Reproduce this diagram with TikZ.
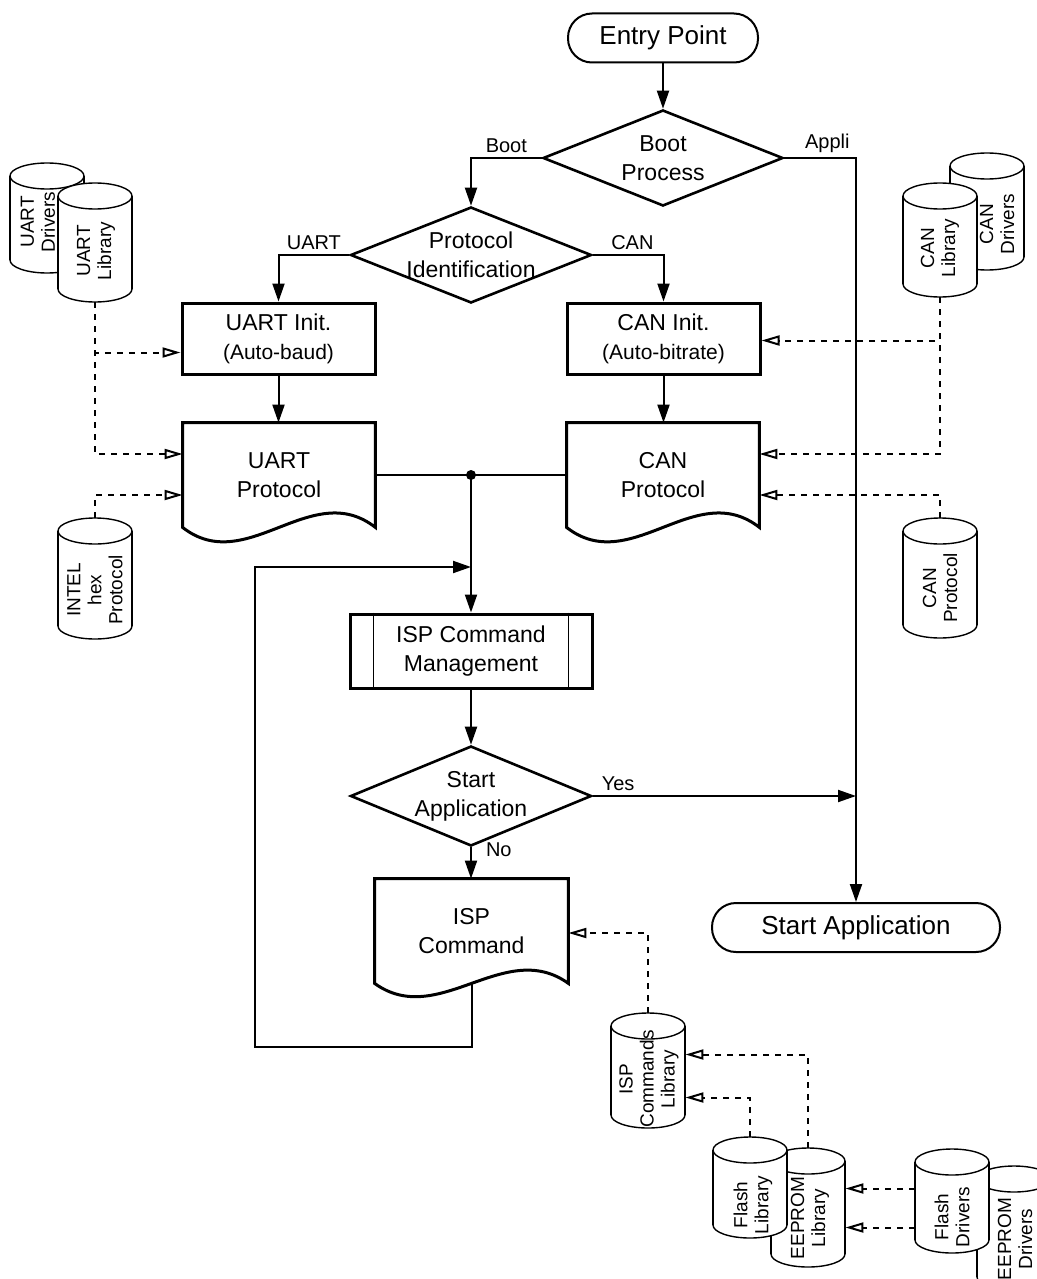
\documentclass[tikz,border=0pt]{standalone}
\usepackage{fontspec}
\setmainfont{Liberation Sans}
\usetikzlibrary{shapes.geometric,arrows.meta,calc}

% cylinder: name, cx, top, bottom, text x, text y, text
\newcommand{\drum}[7]{%
  \draw[drumline, fill=white] (#2,#4-13) ellipse [x radius=18.5pt, y radius=6.5pt];
  \fill[white] (#2-37,#3+13) rectangle (#2+37,#4-13);
  \draw[drumline] (#2-37,#3+13) -- (#2-37,#4-13) (#2+37,#3+13) -- (#2+37,#4-13);
  \draw[drumline, fill=white] (#2,#3+13) ellipse [x radius=18.5pt, y radius=6.5pt];
  \node[drumbox, minimum height=(#4-#3)*0.5pt] (#1) at (#2,#3/2+#4/2) {};
  \node[drumtext] (#1-t) at (#5,#6) {#7};
}

\tikzset{
  term/.style={draw, line width=1pt, rounded corners=12pt, minimum height=24.5pt, font=\fontsize{13}{15}\selectfont},
  decision/.style={draw, diamond, aspect=2.5, inner sep=-12pt, line width=1.3pt, align=center, font=\fontsize{11.5}{14.5}\selectfont},
  proc/.style={draw, line width=1.5pt, minimum width=96.5pt, minimum height=35.5pt, align=center, font=\fontsize{11.5}{14.5}\selectfont},
  doc/.style={minimum width=96pt, minimum height=52pt, inner sep=0pt, align=center, font=\fontsize{11.5}{14.5}\selectfont},
  docline/.style={line width=1.5pt, line join=miter},
  flow/.style={line width=1pt, -{Triangle[length=9pt,width=6pt]}},
  dep/.style={line width=1pt, dash pattern=on 3pt off 3pt, -{Triangle[open,length=9pt,width=5pt]}},
  lbl/.style={font=\fontsize{10}{12}\selectfont, inner sep=2pt},
  drumline/.style={line width=0.7pt},
  drumbox/.style={minimum width=37pt, inner sep=0pt},
  drumtext/.style={rotate=90, align=center, font=\fontsize{9.5}{10.5}\selectfont},
}

\begin{document}
\begin{tikzpicture}[x=0.5pt, y=-0.5pt]
  \useasboundingbox (0,0) rectangle (1037,1279);
  \clip (0,0) rectangle (1037,1279);

  % main flow
  \node[term, minimum width=95pt] (entry) at (663,38) {Entry Point};
  \node[decision, minimum width=120pt, minimum height=48pt] (boot) at (663,158) {Boot\\Process};
  \node[decision, minimum width=120.5pt, minimum height=48pt] (ident) at (471,255) {Protocol\\Identification};
  \node[proc] (uinit) at (278.5,338.5) {UART Init.\\{\fontsize{10.5}{12}\selectfont(Auto-baud)}};
  \node[proc] (cinit) at (663.5,338.5) {CAN Init.\\{\fontsize{10.5}{12}\selectfont(Auto-bitrate)}};
  \node[doc] (uproto) at (279,475) {UART\\Protocol};
  \node[doc] (cproto) at (663,475) {CAN\\Protocol};
  \node[proc, minimum width=121pt, minimum height=37pt] (ispmgt) at (471,651) {ISP Command\\Management};
  \node[decision, minimum width=120.5pt, minimum height=50pt] (start) at (471,796) {Start\\Application};
  \node[doc, minimum width=96.5pt] (ispcmd) at (471.5,931) {ISP\\Command};
  \node[term, minimum width=144pt] (appli) at (856,927.5) {Start Application};

  \draw[docline] (uproto.north west) -- (uproto.north east) -- (uproto.south east) .. controls +(-64,-50) and +(64,50) .. (uproto.south west) -- cycle;
  \draw[docline] (cproto.north west) -- (cproto.north east) -- (cproto.south east) .. controls +(-64,-50) and +(64,50) .. (cproto.south west) -- cycle;
  \draw[docline] (ispcmd.north west) -- (ispcmd.north east) -- (ispcmd.south east) .. controls +(-64,-46) and +(64,46) .. (ispcmd.south west) -- cycle;
  \draw[line width=0.8pt] ($(ispmgt.north west)+(25,0)$) -- ($(ispmgt.south west)+(25,0)$)
    ($(ispmgt.north east)+(-25,0)$) -- ($(ispmgt.south east)+(-25,0)$);

  \draw[flow] (entry) -- (boot);
  \draw[flow] (boot.west) -| node[lbl, above, pos=0.25] (lboot) {Boot} (ident.north);
  \draw[flow] (boot.east) -| node[lbl, above, pos=0.3] (lappli) {Appli} (appli.north);
  \draw[flow] (ident.west) -| node[lbl, above, pos=0.25] (luart) {UART} (uinit.north);
  \draw[flow] (ident.east) -| node[lbl, above, pos=0.28] (lcan) {CAN} (cinit.north);
  \draw[flow] (uinit.south) -- (uinit.south |- uproto.north);
  \draw[flow] (cinit.south) -- (cinit.south |- cproto.north);

  \coordinate (join) at (ispmgt.north |- uproto.east);
  \draw[line width=1pt] (uproto.east) -- (cproto.west);
  \fill (join) circle (2.5pt);
  \draw[flow] (join) -- (ispmgt.north);
  \draw[flow] (ispmgt) -- (start);
  \draw[flow] (start.south) -- node[lbl, right, pos=0, xshift=5pt, yshift=-1pt] (lno) {No} (start.south |- ispcmd.north);
  \draw[flow] (start.east) -- node[lbl, above right, pos=0, xshift=2pt] (lyes) {Yes} (appli.north |- start.east);

  % loop back
  \coordinate (loopbot) at (255,1047);
  \coordinate (looptop) at (255,567);
  \draw[flow] (ispcmd.south) |- (loopbot) |- (join |- looptop);

  % libraries and drivers
  \drum{udrv}{47}{163}{273}{38}{222}{UART\\Drivers}
  \drum{ulib}{95}{183}{302}{96}{251}{UART\\Library}
  \drum{hexp}{95}{518}{639}{95}{590}{INTEL\\hex\\Protocol}
  \drum{cdrv}{987}{153}{270}{997}{224}{CAN\\Drivers}
  \drum{clib}{940}{183}{297}{940}{248}{CAN\\Library}
  \drum{canp}{940}{518}{638}{940}{588}{CAN\\Protocol}
  \drum{isplib}{648}{1013}{1128}{649}{1079}{ISP\\Commands\\Library}
  \drum{elib}{808}{1148}{1267}{810}{1218}{EEPROM\\Library}
  \drum{flib}{750}{1137}{1238}{753}{1205}{Flash\\Library}
  \drum{edrv}{1014}{1166}{1290}{1015}{1239}{EEPROM\\Drivers}
  \drum{fdrv}{952}{1149}{1253}{952}{1217}{Flash\\Drivers}

  \draw[dep] (ulib.south) |- ($(uinit.west)+(0,14)$);
  \draw[dep] (ulib.south) |- ($(uproto.west)+(0,-21)$);
  \draw[dep] (hexp.north) |- ($(uproto.west)+(0,20)$);
  \draw[dep] (clib.south) |- ($(cinit.east)+(0,2)$);
  \draw[dep] (clib.south) |- ($(cproto.east)+(0,-21)$);
  \draw[dep] (canp.north) |- ($(cproto.east)+(0,20)$);
  \draw[dep] (isplib.north) |- ($(ispcmd.east)+(0,2)$);
  \draw[dep] (elib.north) |- ($(isplib.east)+(0,-16)$);
  \draw[dep] (flib.north) |- ($(isplib.east)+(0,27)$);
  \coordinate (e1) at ($(elib.east)+(0,-19)$);
  \coordinate (e2) at ($(elib.east)+(0,20)$);
  \draw[dep] (fdrv.west |- e1) -- (e1);
  \draw[dep] (fdrv.west |- e2) -- (e2);
\end{tikzpicture}
\end{document}
